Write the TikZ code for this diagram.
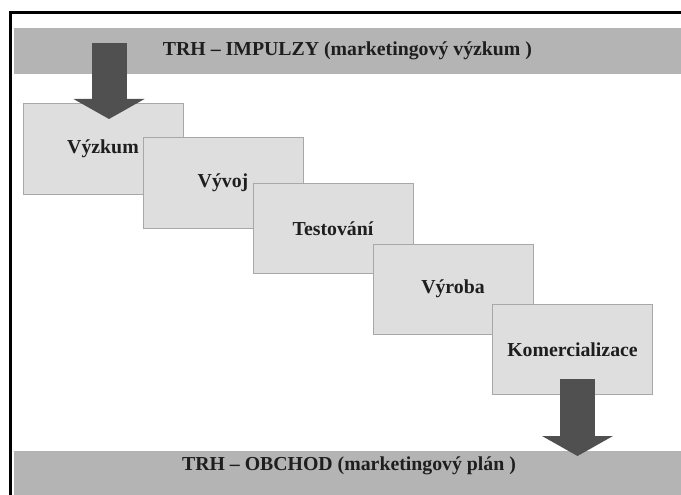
\documentclass[tikz,border=0pt]{standalone}
\usepackage{fontspec}
\setmainfont{Liberation Serif}
\usetikzlibrary{positioning,arrows.meta}

\definecolor{bandgray}{HTML}{B4B4B4}
\definecolor{stagefill}{HTML}{DEDEDE}
\definecolor{stageline}{HTML}{A8A8A8}
\definecolor{arrowgray}{HTML}{505050}
\definecolor{textdark}{HTML}{1E1E1E}

\tikzset{
  labelfont/.style={font=\bfseries\fontsize{19.8pt}{23pt}\selectfont, text=textdark},
  band/.style={fill=bandgray, minimum width=667pt, inner sep=0pt, labelfont},
  stage/.style={draw=stageline, line width=1pt, fill=stagefill,
    minimum width=160pt, minimum height=90pt, inner sep=0pt, labelfont},
  flow/.style={draw=arrowgray, line width=35pt,
    -{Triangle[width=71pt,length=20pt,line width=0pt]}},
}

\begin{document}
\begin{tikzpicture}[x=1pt,y=-1pt]
\useasboundingbox (0,0) rectangle (681,495);

% frame
\draw[line width=3pt] (10,495) -- (10,12.5) -- (681,12.5);

% market bands
\node[band, minimum height=46pt] (impulzy) at (347.5,51) {TRH – IMPULZY (marketingový výzkum )};
\node[band, minimum height=44pt] (obchod) at (347,473) {};

% stages
\node[stage] (vyzkum) at (103,149) {Výzkum};
\node[stage] (vyvoj) at (223,183) {Vývoj};
\node[stage] (testovani) at (333,228.5) {Testování};
\node[stage] (vyroba) at (453,289) {Výroba};
\node[stage] (komercializace) at (572.5,349.5) {Komercializace};

% in and out
\coordinate (inStart) at (109,43);
\coordinate (inEnd) at (109,119);
\coordinate (outStart) at (577.5,379);
\coordinate (outEnd) at (577.5,456);
\draw[flow] (inStart) -- (inEnd);
\draw[flow] (outStart) -- (outEnd);

\node[labelfont, inner sep=0pt] (obchodText) at (349,466) {TRH – OBCHOD (marketingový plán )};
\end{tikzpicture}
\end{document}
